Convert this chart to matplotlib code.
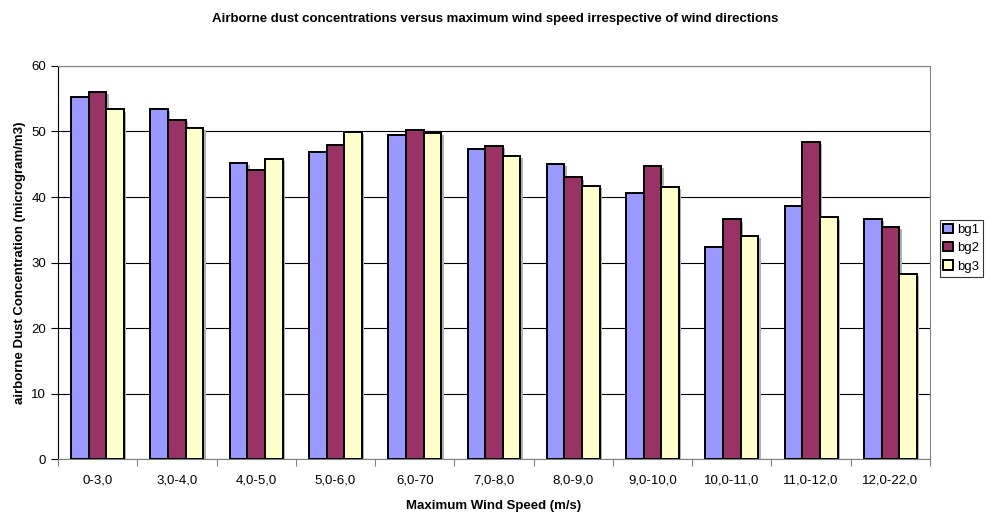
import numpy as np
import matplotlib.pyplot as plt

plt.rcParams['font.family'] = ['Liberation Sans', 'DejaVu Sans']

# wind speed classes
categories = ['0-3,0', '3,0-4,0', '4,0-5,0', '5,0-6,0', '6,0-70', '7,0-8,0',
              '8,0-9,0', '9,0-10,0', '10,0-11,0', '11,0-12,0', '12,0-22,0']

# dust concentration per background station (microgram/m3)
bg1 = [55.3, 53.5, 45.2, 46.9, 49.5, 47.3, 45.1, 40.6, 32.4, 38.7, 36.7]
bg2 = [56.1, 51.8, 44.1, 47.9, 50.2, 47.8, 43.0, 44.8, 36.6, 48.4, 35.4]
bg3 = [53.4, 50.6, 45.8, 49.9, 49.8, 46.3, 41.7, 41.5, 34.1, 36.9, 28.3]

series = [('bg1', bg1, '#9999FF'), ('bg2', bg2, '#993366'), ('bg3', bg3, '#FFFFCC')]

fig = plt.figure(figsize=(9.9, 5.12), dpi=100)
ax = fig.add_axes([0.0586, 0.1035, 0.8808, 0.7676])

x = np.arange(len(categories))
w = 1 / 4.5
for i, (name, vals, col) in enumerate(series):
    pos = x + (i - 1) * w
    # soft drop shadow like the spreadsheet renderer
    ax.bar(pos + 0.03, vals, w, bottom=-0.35, color='#b0b0b0', edgecolor='none',
           zorder=2)
    ax.bar(pos, vals, w, color=col, edgecolor='black', linewidth=1.4,
           label=name, zorder=3)

ax.set_xlim(-0.5, len(categories) - 0.5)
ax.set_ylim(0, 60)
ax.set_yticks(range(0, 61, 10))
ax.yaxis.grid(True, color='black', linewidth=0.8, zorder=0)
ax.set_axisbelow(True)

ax.set_xticks(x)
ax.set_xticklabels(categories, fontsize=9.5)
ax.set_xticks(np.arange(-0.5, len(categories), 1), minor=True)
ax.tick_params(axis='x', which='major', length=0, pad=11)
ax.tick_params(axis='x', which='minor', length=5, width=0.8, color='#808080')
ax.tick_params(axis='y', length=5, width=0.8, labelsize=9.5, color='black')

for side in ['top', 'right']:
    ax.spines[side].set_color('#808080')
ax.spines['left'].set_color('black')
ax.spines['bottom'].set_color('#808080')

ax.set_xlabel('Maximum Wind Speed (m/s)', fontsize=9.5, fontweight='bold', labelpad=10)
ax.set_ylabel('airborne Dust Concentration (microgram/m3)', fontsize=9.5,
              fontweight='bold', labelpad=4)
fig.suptitle('Airborne dust concentrations versus maximum wind speed irrespective of wind directions',
             fontsize=9.5, fontweight='bold', y=0.975)

leg = fig.legend(loc='center left', bbox_to_anchor=(0.949, 0.515), fontsize=9.5,
                 frameon=True, fancybox=False, edgecolor='black',
                 handlelength=0.7, handleheight=0.7, handletextpad=0.3,
                 borderpad=0.3, labelspacing=0.45, borderaxespad=0)
leg.get_frame().set_linewidth(0.8)

fig.savefig('out.png', dpi=100)
